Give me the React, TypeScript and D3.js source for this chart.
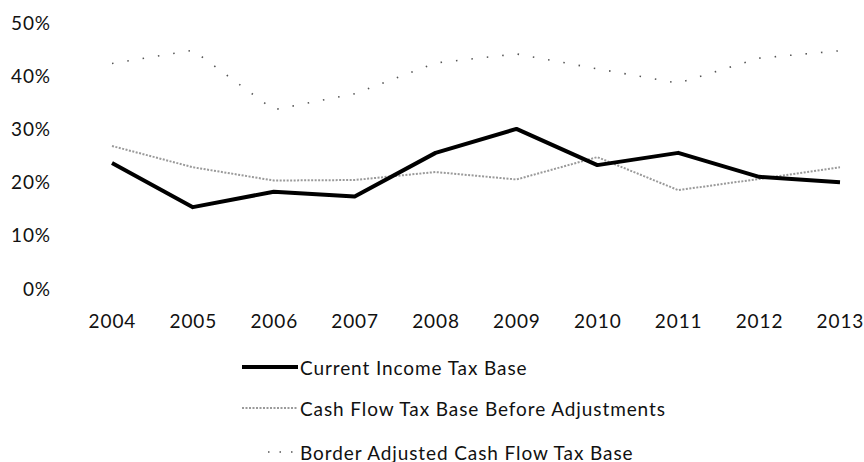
import React from "react";
import * as d3 from "d3";

const years = ["2004", "2005", "2006", "2007", "2008", "2009", "2010", "2011", "2012", "2013"];
const currentIncome = [23.5, 15.2, 18.1, 17.2, 25.4, 29.9, 23.1, 25.4, 20.9, 19.9];
const cashFlowBefore = [26.7, 22.7, 20.2, 20.3, 21.8, 20.4, 24.6, 18.4, 20.5, 22.7];
const borderAdjusted = [42.2, 44.7, 33.5, 36.5, 42.3, 44.0, 41.2, 38.5, 43.2, 44.6];
const yTicks = [0, 10, 20, 30, 40, 50];
const seriesNames = [
  "Current Income Tax Base",
  "Cash Flow Tax Base Before Adjustments",
  "Border Adjusted Cash Flow Tax Base",
];

const W = 864;
const H = 462;
const FONT = "Lato, 'Open Sans', sans-serif";
const LS = 0.9;

export default function App() {
  const x = d3.scalePoint<string>().domain(years).range([112, 840]);
  const y = d3.scaleLinear().domain([0, 50]).range([288, 22]);
  const line = d3
    .line<number>()
    .x((_, i) => x(years[i]) as number)
    .y((d) => y(d));

  const styles = [
    { stroke: "#000", width: 4, dash: undefined as string | undefined, data: currentIncome },
    { stroke: "#9a9a9a", width: 2, dash: "2 1.5", data: cashFlowBefore },
    { stroke: "#555", width: 1.6, dash: "1.5 14", data: borderAdjusted },
  ];

  const legendY = [367, 408, 452];

  return (
    <svg width={W} height={H} style={{ position: "absolute", left: 0, top: 0, background: "#fff" }}>
      <rect x={0} y={0} width={W} height={H} fill="#fff" />
      {yTicks.map((t) => (
        <text
          key={t}
          x={51}
          y={y(t)}
          textAnchor="end"
          dominantBaseline="central"
          fontFamily={FONT}
          fontSize={19}
          letterSpacing={LS}
          fill="#111"
        >
          {t}%
        </text>
      ))}
      {years.map((yr) => (
        <text
          key={yr}
          x={(x(yr) as number) + LS / 2}
          y={320}
          textAnchor="middle"
          dominantBaseline="central"
          fontFamily={FONT}
          fontSize={19}
          letterSpacing={LS}
          fill="#111"
        >
          {yr}
        </text>
      ))}
      {[...styles].reverse().map((s, i) => (
        <path
          key={i}
          d={line(s.data) || ""}
          fill="none"
          stroke={s.stroke}
          strokeWidth={s.width}
          strokeDasharray={s.dash}
          strokeLinejoin="round"
        />
      ))}
      {seriesNames.map((name, i) => {
        const s = styles[i];
        const x1 = i === 2 ? 268 : 242;
        return (
          <g key={name}>
            <line
              x1={x1}
              x2={298}
              y1={legendY[i]}
              y2={legendY[i]}
              stroke={s.stroke}
              strokeWidth={s.width}
              strokeDasharray={i === 2 ? "1.5 10" : s.dash}
            />
            <text
              x={300}
              y={legendY[i]}
              dominantBaseline="central"
              fontFamily={FONT}
              fontSize={19}
              letterSpacing={LS}
              fill="#111"
            >
              {name}
            </text>
          </g>
        );
      })}
    </svg>
  );
}
